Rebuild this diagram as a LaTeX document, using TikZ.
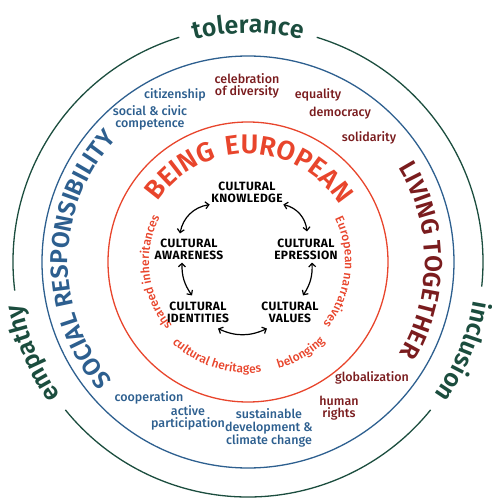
\documentclass[tikz,border=0pt]{standalone}
\usepackage{fontspec}
\setmainfont{Fira Sans}
\newfontfamily\labf{Fira Sans Medium}
\newfontfamily\boldf{Fira Sans Bold}[LetterSpace=3]
\newfontfamily\bigf{Fira Sans SemiBold}[LetterSpace=1]
\newfontfamily\greenf{Fira Sans SemiBold}[LetterSpace=10]
\newfontfamily\beingf{Fira Sans SemiBold}[LetterSpace=13]
\newfontfamily\redf{Fira Sans Medium}[LetterSpace=2]
\usetikzlibrary{decorations.text,arrows.meta}
\definecolor{tgreen}{HTML}{1B4D3E}
\definecolor{tblue}{HTML}{2D5F8F}
\definecolor{tmaroon}{HTML}{7A1C1E}
\definecolor{tred}{HTML}{E8452C}
\tikzset{
  ring/.style={line width=1.3pt},
  blab/.style={font={\labf\fontsize{12.5pt}{12.5pt}\selectfont}, text=tblue, align=center, inner sep=0pt},
  mlab/.style={font={\labf\fontsize{12.5pt}{12.5pt}\selectfont}, text=tmaroon, align=center, inner sep=0pt},
  cnode/.style={font={\boldf\fontsize{12pt}{12pt}\selectfont}, text=black, align=center, inner sep=0pt},
  arr/.style={line width=1.2pt, {Straight Barb[length=3.5pt,width=7pt]}-{Straight Barb[length=3.5pt,width=7pt]}}
}
\begin{document}
\begin{tikzpicture}[x=1pt,y=1pt]
\useasboundingbox (-248,-242) rectangle (243,262);
% rings
\draw[tgreen, ring] (107:235pt) arc[start angle=107, end angle=187, radius=235pt];
\draw[tgreen, ring] (219:235pt) arc[start angle=219, end angle=321, radius=235pt];
\draw[tgreen, ring] (-6:235pt) arc[start angle=-6, end angle=73, radius=235pt];
\draw[tblue, ring] (0,0) circle[radius=206pt];
\draw[tred, ring] (0,0) circle[radius=140pt];
% green words
\path[decorate, decoration={text along path, text align=center, text color=tgreen,
  text={|\greenf\fontsize{25pt}{25pt}\selectfont|tolerance}}]
  (125:229pt) arc[start angle=125, end angle=55, radius=229pt];
\path[decorate, decoration={text along path, text align=center, text color=tgreen,
  text={|\greenf\fontsize{25pt}{25pt}\selectfont|empathy}}]
  (238:230pt) arc[start angle=238, end angle=168, radius=230pt];
\path[decorate, decoration={text along path, text align=center, text color=tgreen,
  text={|\greenf\fontsize{25pt}{25pt}\selectfont|inclusion}}]
  (12.5:229pt) arc[start angle=12.5, end angle=-57.5, radius=229pt];
% big ring words
\path[decorate, decoration={text along path, text align=center, text color=tblue,
  text={|\bigf\fontsize{24.5pt}{24.5pt}\selectfont|SOCIAL RESPONSIBILITY}}]
  (234:180pt) arc[start angle=234, end angle=124, radius=180pt];
\path[decorate, decoration={text along path, text align=center, text color=tmaroon,
  text={|\bigf\fontsize{24.5pt}{24.5pt}\selectfont|LIVING TOGETHER}}]
  (55:177pt) arc[start angle=55, end angle=-54, radius=177pt];
\path[decorate, decoration={text along path, text align=center, text color=tred,
  text={|\beingf\fontsize{27pt}{27pt}\selectfont|BEING EUROPEAN}}]
  (165:108pt) arc[start angle=165, end angle=13, radius=108pt];
% small red ring words
\path[decorate, decoration={text along path, text align=center, text color=tred,
  text={|\redf\fontsize{12pt}{12pt}\selectfont|shareed inheritances}}]
  (249:99pt) arc[start angle=249, end angle=124, radius=99pt];
\path[decorate, decoration={text along path, text align=center, text color=tred,
  text={|\redf\fontsize{12pt}{12pt}\selectfont|European narratives}}]
  (57:97pt) arc[start angle=57, end angle=-70, radius=97pt];
\path[decorate, decoration={text along path, text align=center, text color=tred,
  text={|\redf\fontsize{12pt}{12pt}\selectfont|cultural heritages}}]
  (203.5:111pt) arc[start angle=203.5, end angle=300.5, radius=111pt];
\path[decorate, decoration={text along path, text align=center, text color=tred,
  text={|\redf\fontsize{12pt}{12pt}\selectfont|belonging}}]
  (275:111pt) arc[start angle=275, end angle=325, radius=111pt];
% blue labels
\node[blab] (citiz) at (-73,167) {citizenship};
\node[blab] (civic) at (-98,144) {social \& civic\\competence};
\node[blab] (coop) at (-99,-136) {cooperation};
\node[blab] (active) at (-60,-156) {active\\participation};
\node[blab] (sust) at (21,-166) {sustainable\\development \&\\climate change};
% maroon labels
\node[mlab] (celeb) at (-1,176) {celebration\\of diversity};
\node[mlab] (equal) at (70,167) {equality};
\node[mlab] (democ) at (92,149) {democracy};
\node[mlab] (solid) at (121,124) {solidarity};
\node[mlab] (glob) at (124,-116) {globalization};
\node[mlab] (human) at (91,-146) {human\\rights};
% centre
\node[cnode] (know) at (-1,70) {CULTURAL\\KNOWLEDGE};
\node[cnode] (aware) at (-59,13) {CULTURAL\\AWARENESS};
\node[cnode] (expr) at (58,13) {CULTURAL\\EPRESSION};
\node[cnode] (ident) at (-50,-50) {CULTURAL\\IDENTITIES};
\node[cnode] (values) at (42,-50) {CULTURAL\\VALUES};
\draw[arr] ([shift={(-1.5,-2)}]know.south west) to[bend right=35] ([shift={(-9,5)}]aware.north);
\draw[arr] ([shift={(0.5,-2)}]know.south east) to[bend left=35] ([shift={(1,7)}]expr.north);
\draw[arr] ([shift={(-7,-3)}]aware.south) to[bend right=18] ([shift={(-6,6)}]ident.north);
\draw[arr] ([shift={(6,-3)}]expr.south) to[bend left=18] ([shift={(13,6)}]values.north);
\draw[arr] ([shift={(20,-6)}]ident.south) to[bend right=25] ([shift={(-23,-6)}]values.south);
\end{tikzpicture}
\end{document}
